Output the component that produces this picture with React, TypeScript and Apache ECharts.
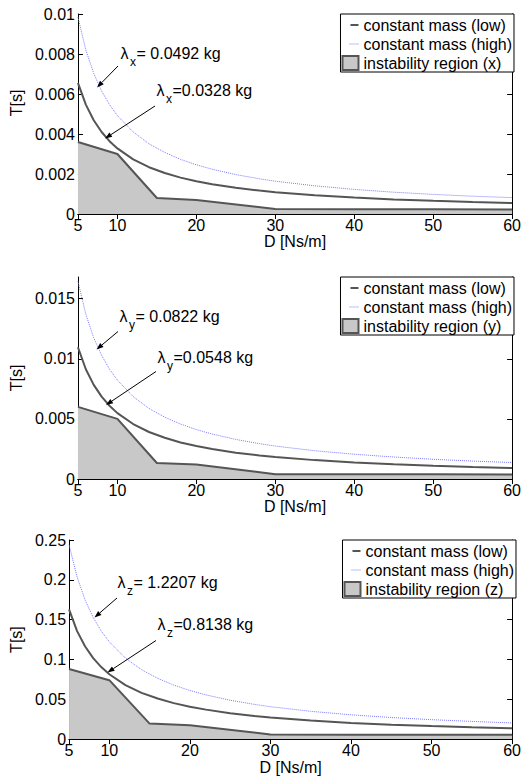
import React, { useEffect, useRef } from 'react';
import * as echarts from 'echarts';

const FONT = '"Liberation Sans", Arial, Helvetica, sans-serif';

// Damping values D [Ns/m] at which the constant-mass curves were read
const D = [5, 6, 7, 8, 9, 10, 12, 14, 16, 18, 20, 22, 25, 28, 30, 35, 40, 45, 50, 55, 60];

// x direction
const lowX = [0.00656, 0.00547, 0.00469, 0.0041, 0.00364, 0.00328, 0.00273, 0.00234, 0.00205, 0.00182, 0.00164, 0.00149, 0.00131, 0.00117, 0.00109, 0.00094, 0.00082, 0.00073, 0.00066, 0.0006, 0.00055];
const highX = [0.00984, 0.0082, 0.00703, 0.00615, 0.00547, 0.00492, 0.0041, 0.00351, 0.00308, 0.00273, 0.00246, 0.00224, 0.00197, 0.00176, 0.00164, 0.00141, 0.00123, 0.00109, 0.00098, 0.00089, 0.00082];
// y direction
const lowY = [0.01096, 0.00913, 0.00783, 0.00685, 0.00609, 0.00548, 0.00457, 0.00391, 0.00343, 0.00304, 0.00274, 0.00249, 0.00219, 0.00196, 0.00183, 0.00157, 0.00137, 0.00122, 0.0011, 0.001, 0.00091];
const highY = [0.01644, 0.0137, 0.01174, 0.01028, 0.00913, 0.00822, 0.00685, 0.00587, 0.00514, 0.00457, 0.00411, 0.00374, 0.00329, 0.00294, 0.00274, 0.00235, 0.00206, 0.00183, 0.00164, 0.00149, 0.00137];
// z direction
const lowZ = [0.1628, 0.1356, 0.1163, 0.1017, 0.0904, 0.0814, 0.0678, 0.0581, 0.0509, 0.0452, 0.0407, 0.037, 0.0326, 0.0291, 0.0271, 0.0233, 0.0203, 0.0181, 0.0163, 0.0148, 0.0136];
const highZ = [0.2441, 0.2035, 0.1744, 0.1526, 0.1356, 0.1221, 0.1017, 0.0872, 0.0763, 0.0678, 0.061, 0.0555, 0.0488, 0.0436, 0.0407, 0.0349, 0.0305, 0.0271, 0.0244, 0.0222, 0.0203];

// Instability region boundary
const regionD = [5, 10, 15, 20, 30, 40, 50, 60];
const regionX = [0.0036, 0.003, 0.0008, 0.0007, 0.00025, 0.00024, 0.00024, 0.00023];
const regionY = [0.006, 0.005, 0.00133, 0.0012, 0.0004, 0.0004, 0.00039, 0.00038];
const regionZ = [0.088, 0.074, 0.0195, 0.0175, 0.0058, 0.0056, 0.0055, 0.0055];

// Tick labels
const xTicks = [5, 10, 20, 30, 40, 50, 60];
const yTicksX = [0, 0.002, 0.004, 0.006, 0.008, 0.01];
const yTicksY = [0, 0.005, 0.01, 0.015];
const yTicksZ = [0, 0.05, 0.1, 0.15, 0.2, 0.25];
const yMaxes = [0.01, 0.0168, 0.25];

const lowName = 'constant mass (low)';
const highName = 'constant mass (high)';
const regionNames = ['instability region (x)', 'instability region (y)', 'instability region (z)'];
const lambdaSubs = ['x', 'y', 'z'];
const highMass = ['= 0.0492 kg', '= 0.0822 kg', '= 1.2207 kg'];
const lowMass = ['=0.0328 kg', '=0.0548 kg', '=0.8138 kg'];

const LOW_COLOR = '#555555';
const HIGH_COLOR = '#7a7aff';
const FILL_COLOR = '#c8c8c8';

// legend icons: short solid line / short dotted line at the right of the icon box
const SOLID_ICON = 'path://M0,0h0.01v2h-0.01zM8,0H16V2H8Z';
const DOTTED_ICON = 'path://M0,0h0.01v1h-0.01zM7,0h1v1h-1zM9,0h1v1h-1zM11,0h1v1h-1zM13,0h1v1h-1zM15,0h1v1h-1z';

const panels = [
  {
    grid: { left: 73, top: 14, width: 441, height: 200 },
    yTicks: yTicksX, low: lowX, high: highX, region: regionX, nameGap: 47, namePad: [0, 0, 0, 22],
    t1: [120.5, 53], t2: [156.5, 90.5], a1: [118, 66, 97, 87.5], a2: [155, 106, 105, 138.5],
  },
  {
    grid: { left: 73, top: 277, width: 441, height: 202 },
    yTicks: yTicksY, low: lowY, high: highY, region: regionY, nameGap: 47, namePad: [0, 0, 0, 0],
    t1: [119.5, 316], t2: [157.5, 357.5], a1: [118, 331.5, 96.5, 349.5], a2: [156, 371.5, 106, 405],
  },
  {
    grid: { left: 66, top: 540, width: 450, height: 200 },
    yTicks: yTicksZ, low: lowZ, high: highZ, region: regionZ, nameGap: 36, namePad: [0, 0, 0, 0],
    t1: [117.5, 582.5], t2: [157.5, 624], a1: [117, 598, 94.5, 617.5], a2: [156, 640.5, 107.5, 672.5],
  },
];

function arrow(x1: number, y1: number, x2: number, y2: number) {
  const dx = x2 - x1;
  const dy = y2 - y1;
  const L = Math.hypot(dx, dy);
  const ux = dx / L;
  const uy = dy / L;
  const hl = 7;
  const hw = 2.6;
  const bx = x2 - ux * hl;
  const by = y2 - uy * hl;
  return [
    { type: 'line', z: 100, shape: { x1, y1, x2: bx, y2: by }, style: { stroke: '#000', lineWidth: 1 } },
    {
      type: 'polygon', z: 100,
      shape: { points: [[x2, y2], [bx - uy * hw, by + ux * hw], [bx + uy * hw, by - ux * hw]] },
      style: { fill: '#000' },
    },
  ];
}

function lambdaText(x: number, yc: number, sub: string, rest: string) {
  const base = { fill: '#000', fontFamily: FONT, verticalAlign: 'middle', textVerticalAlign: 'middle', align: 'left', textAlign: 'left' };
  return [
    { type: 'text', z: 100, x, y: yc, style: { ...base, text: 'λ', fontSize: 16 } },
    { type: 'text', z: 100, x: x + 9.5, y: yc + 8.5, style: { ...base, text: sub, fontSize: 12 } },
    { type: 'text', z: 100, x: x + 16, y: yc, style: { ...base, text: rest, fontSize: 16 } },
  ];
}

function buildOption() {
  const grids: any[] = [];
  const xAxes: any[] = [];
  const yAxes: any[] = [];
  const series: any[] = [];
  const legends: any[] = [];
  const graphics: any[] = [];
  const axisLine = { show: true, lineStyle: { color: '#000', width: 1 } };
  const tickStyle = { color: '#000', width: 1 };

  panels.forEach((p, i) => {
    grids.push({ ...p.grid, containLabel: false, show: false });
    const xb = 2 * i;
    xAxes.push({
      type: 'value', gridIndex: i, position: 'bottom', min: 5, max: 60,
      name: 'D [Ns/m]', nameLocation: 'middle', nameGap: 14,
      nameTextStyle: { fontSize: 16, color: '#000', fontFamily: FONT },
      axisLine,
      axisTick: { show: true, inside: true, length: 5, lineStyle: tickStyle, customValues: xTicks },
      axisLabel: { show: true, customValues: xTicks, fontSize: 16, color: '#000', fontFamily: FONT, margin: 3 },
      splitLine: { show: false },
    });
    xAxes.push({
      type: 'value', gridIndex: i, position: 'top', min: 5, max: 60,
      axisLine,
      axisTick: { show: true, inside: true, length: 5, lineStyle: tickStyle, customValues: xTicks },
      axisLabel: { show: false, customValues: xTicks },
      splitLine: { show: false },
    });
    yAxes.push({
      type: 'value', gridIndex: i, position: 'left', min: 0, max: yMaxes[i],
      name: 'T[s]', nameLocation: 'middle', nameGap: p.nameGap, nameRotate: 90,
      nameTextStyle: { fontSize: 16, color: '#000', fontFamily: FONT, padding: p.namePad },
      axisLine,
      axisTick: { show: true, inside: true, length: 5, lineStyle: tickStyle, customValues: p.yTicks },
      axisLabel: { show: true, customValues: p.yTicks, fontSize: 16, color: '#000', fontFamily: FONT, margin: 3 },
      splitLine: { show: false },
    });
    yAxes.push({
      type: 'value', gridIndex: i, position: 'right', min: 0, max: yMaxes[i],
      axisLine,
      axisTick: { show: true, inside: true, length: 5, lineStyle: tickStyle, customValues: p.yTicks },
      axisLabel: { show: false, customValues: p.yTicks },
      splitLine: { show: false },
    });

    series.push({
      type: 'line', name: regionNames[i], xAxisIndex: xb, yAxisIndex: xb,
      data: regionD.map((d, k) => [d, p.region[k]]),
      symbol: 'none', z: 2,
      lineStyle: { color: LOW_COLOR, width: 2 },
      itemStyle: { color: FILL_COLOR, borderColor: LOW_COLOR, borderWidth: 2 },
      areaStyle: { color: FILL_COLOR, opacity: 1 },
    });
    series.push({
      type: 'line', name: lowName, xAxisIndex: xb, yAxisIndex: xb,
      data: D.map((d, k) => [d, p.low[k]]),
      symbol: 'none', smooth: false, z: 3,
      lineStyle: { color: LOW_COLOR, width: 2 },
      itemStyle: { color: LOW_COLOR },
    });
    series.push({
      type: 'line', name: highName, xAxisIndex: xb, yAxisIndex: xb,
      data: D.map((d, k) => [d, p.high[k]]),
      symbol: 'none', smooth: false, z: 4,
      lineStyle: { color: HIGH_COLOR, width: 1, type: 'dotted' },
      itemStyle: { color: HIGH_COLOR },
    });

    const gr = p.grid;
    legends.push({
      orient: 'vertical',
      top: gr.top,
      right: 524 - (gr.left + gr.width),
      backgroundColor: '#fff',
      borderColor: '#000',
      borderWidth: 1,
      borderRadius: 0,
      padding: [3, 2, 1, 1],
      itemGap: 3,
      itemWidth: 16,
      itemHeight: 14,
      selectedMode: false,
      textStyle: { fontSize: 16, color: '#000', fontFamily: FONT },
      data: [
        { name: lowName, icon: SOLID_ICON, itemStyle: { color: LOW_COLOR, borderWidth: 0 } },
        { name: highName, icon: DOTTED_ICON, itemStyle: { color: HIGH_COLOR, borderWidth: 0 } },
        { name: regionNames[i], icon: 'rect', itemStyle: { color: FILL_COLOR, borderColor: LOW_COLOR, borderWidth: 2 } },
      ],
    });

    graphics.push(...lambdaText(p.t1[0], p.t1[1], lambdaSubs[i], highMass[i]));
    graphics.push(...lambdaText(p.t2[0], p.t2[1], lambdaSubs[i], lowMass[i]));
    graphics.push(...arrow(p.a1[0], p.a1[1], p.a1[2], p.a1[3]));
    graphics.push(...arrow(p.a2[0], p.a2[1], p.a2[2], p.a2[3]));
  });

  return {
    animation: false,
    backgroundColor: '#fff',
    textStyle: { fontFamily: FONT },
    grid: grids,
    xAxis: xAxes,
    yAxis: yAxes,
    legend: legends,
    series,
    graphic: { elements: graphics },
  };
}

export default function App() {
  const ref = useRef<HTMLDivElement>(null);
  useEffect(() => {
    if (!ref.current) return;
    const chart = echarts.init(ref.current, undefined, { renderer: 'svg' });
    chart.setOption(buildOption() as any);
    return () => chart.dispose();
  }, []);
  return (
    <div
      ref={ref}
      style={{ position: 'absolute', left: 0, top: 0, width: 524, height: 776, background: '#fff' }}
    />
  );
}
